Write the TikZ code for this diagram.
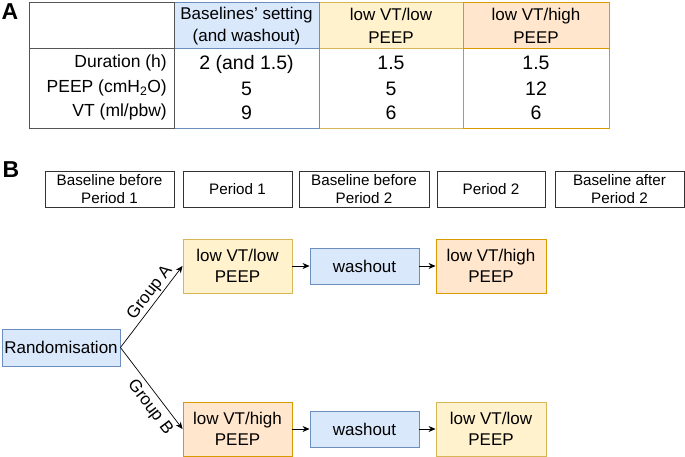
\documentclass[tikz,border=0pt]{standalone}
\usepackage{fontspec}
\setmainfont{Liberation Sans}
\usetikzlibrary{arrows.meta}
\definecolor{bfill}{HTML}{DAE8FC}
\definecolor{bline}{HTML}{6C8EBF}
\definecolor{yfill}{HTML}{FFF2CC}
\definecolor{yline}{HTML}{D6B656}
\definecolor{ofill}{HTML}{FFE6CC}
\definecolor{oline}{HTML}{D79B00}
\definecolor{tgray}{HTML}{555555}
\definecolor{pgray}{HTML}{333333}
\tikzset{
  f17/.style={font=\fontsize{17}{20.5}\selectfont},
  fhead/.style={font=\fontsize{17}{22.5}\selectfont},
  flab/.style={font=\fontsize{17.5}{21}\selectfont},
  f15/.style={font=\fontsize{15.2}{18}\selectfont},
  fval/.style={font=\fontsize{19.5}{22}\selectfont},
  panel/.style={font=\fontsize{23}{26}\selectfont\bfseries},
  perbox/.style={draw=pgray, line width=0.9pt, f15, align=center, inner sep=0pt, minimum height=36pt},
  flowbox/.style={line width=0.9pt, f17, align=center, inner sep=0pt, minimum width=109pt},
  bluebox/.style={flowbox, draw=bline, fill=bfill},
  yelbox/.style={flowbox, draw=yline, fill=yfill, minimum height=54pt},
  orabox/.style={flowbox, draw=oline, fill=ofill, minimum height=54pt},
  arr/.style={-{Stealth[length=7pt,width=6pt]}, line width=0.7pt, black},
  grp/.style={font=\fontsize{17}{20}\selectfont, sloped},
}
\begin{document}
\begin{tikzpicture}[x=1pt,y=-1pt]
\useasboundingbox (0,0) rectangle (685,457);
% ---------- Panel A: table ----------
\node[panel] (labA) at (10,12) {A};
% yellow column
\fill[yfill] (319,2) rectangle (463,48);
\draw[yline, line width=0.9pt] (319,2) rectangle (463,128) (319,48) -- (463,48);
% orange column
\fill[ofill] (463,2) rectangle (609,48);
\draw[oline, line width=0.9pt] (463,2) rectangle (609,128) (463,48) -- (609,48);
% blue column
\fill[bfill] (174,2) rectangle (319,48);
\draw[bline, line width=0.9pt] (174,2) rectangle (319,128) (174,48) -- (319,48);
% first column
\draw[tgray, line width=0.9pt] (29,2) rectangle (174,128) (29,48) -- (174,48);

\node[fhead, align=center] (hBase) at (246.5,26) {Baselines' setting\\(and washout)};
\node[fhead, align=center] (hLow) at (391,26) {low VT/low\\PEEP};
\node[fhead, align=center] (hHigh) at (536,26) {low VT/high\\PEEP};

\node[flab, anchor=base east, inner sep=0pt] (rDur) at (167,68) {Duration (h)};
\node[flab, anchor=base east, inner sep=0pt] (rPeep) at (167,93) {PEEP (cmH\textsubscript{2}O)};
\node[flab, anchor=base east, inner sep=0pt] (rVT) at (167,117) {VT (ml/pbw)};

\node[fval, anchor=base, inner sep=0pt] (v11) at (246.5,69.5) {2 (and 1.5)};
\node[fval, anchor=base, inner sep=0pt] (v12) at (246.5,95.5) {5};
\node[fval, anchor=base, inner sep=0pt] (v13) at (246.5,119.5) {9};
\node[fval, anchor=base, inner sep=0pt] (v21) at (391,69.5) {1.5};
\node[fval, anchor=base, inner sep=0pt] (v22) at (391,95.5) {5};
\node[fval, anchor=base, inner sep=0pt] (v23) at (391,119.5) {6};
\node[fval, anchor=base, inner sep=0pt] (v31) at (536,69.5) {1.5};
\node[fval, anchor=base, inner sep=0pt] (v32) at (536,95.5) {12};
\node[fval, anchor=base, inner sep=0pt] (v33) at (536,119.5) {6};

% ---------- Panel B ----------
\node[panel] (labB) at (11,170) {B};
\node[perbox, minimum width=129pt] (p1) at (109.5,189) {Baseline before\\Period 1};
\node[perbox, minimum width=109pt] (p2) at (237.5,189) {Period 1};
\node[perbox, minimum width=130pt] (p3) at (364,189) {Baseline before\\Period 2};
\node[perbox, minimum width=108pt] (p4) at (491,189) {Period 2};
\node[perbox, minimum width=129pt] (p5) at (619.5,189) {Baseline after\\Period 2};

\node[bluebox, minimum width=118pt, minimum height=37pt] (rand) at (61,347.5) {Randomisation};
\node[yelbox] (a1) at (237.5,266) {low VT/low\\PEEP};
\node[bluebox, minimum height=36pt] (w1) at (364.5,266) {washout};
\node[orabox, minimum width=110pt] (a3) at (491,266) {low VT/high\\PEEP};
\node[orabox] (b1) at (237.5,429) {low VT/high\\PEEP};
\node[bluebox, minimum height=36pt] (w2) at (364.5,429) {washout};
\node[yelbox, minimum width=110pt] (b3) at (491,429) {low VT/low\\PEEP};

\draw[arr] (rand.east) -- node[grp, pos=0.6, above, inner sep=1.5pt] (gA) {Group A} (a1.west);
\draw[arr] (rand.east) -- node[grp, pos=0.64, below, inner sep=5pt] (gB) {Group B} (b1.west);
\draw[arr] (a1) -- (w1);
\draw[arr] (w1) -- (a3);
\draw[arr] (b1) -- (w2);
\draw[arr] (w2) -- (b3);
\end{tikzpicture}
\end{document}
